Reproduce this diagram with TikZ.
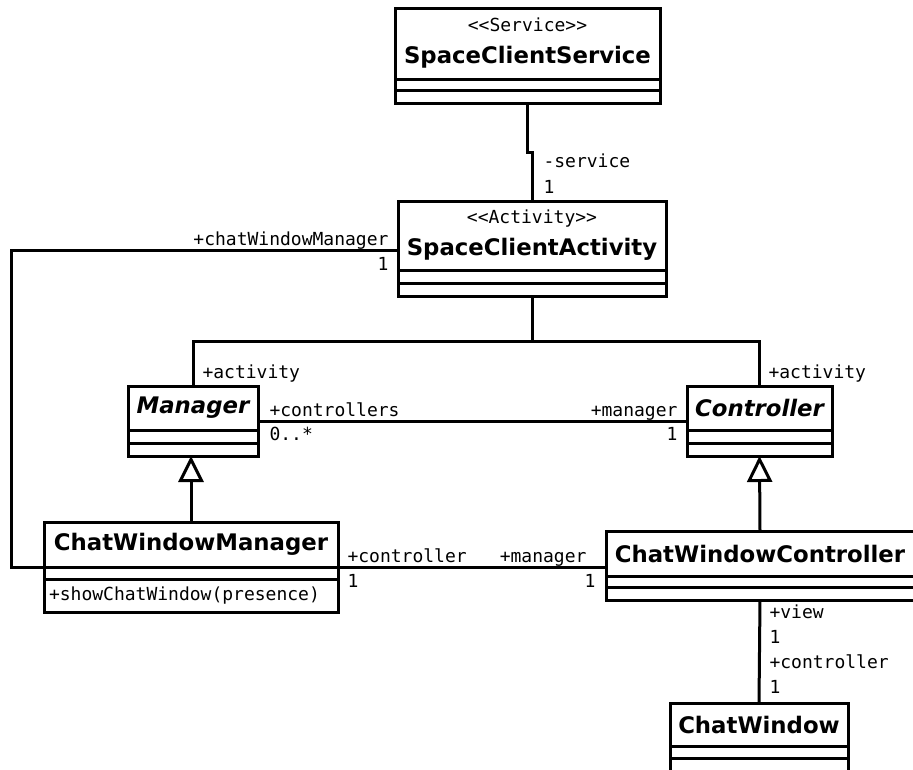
\documentclass[tikz,border=0pt]{standalone}
\usepackage{fontspec}
\newfontfamily\umlsans{DejaVu Sans}
\newfontfamily\umlmono{DejaVu Sans Mono}
\usetikzlibrary{arrows.meta, positioning}

\newcommand{\stereotype}[1]{{\umlmono\mdseries\fontsize{18}{20}\selectfont #1}}

\begin{document}
\begin{tikzpicture}[
      x=1pt, y=-1pt,
      line width=3pt,
      classname/.style={draw, line width=3pt, inner sep=0pt, outer sep=0pt, anchor=north west,
                        align=center, font=\umlsans\fontsize{22.8}{26}\selectfont\bfseries},
      compart/.style={draw, line width=3pt, inner sep=0pt, outer sep=0pt, below=0pt of #1},
      role/.style={font=\umlmono\fontsize{18}{20}\selectfont, inner sep=0pt},
      assoc/.style={line width=3pt},
      gen/.style={line width=3pt, -{Triangle[open, length=26pt, width=25pt]}}
    ]
      \useasboundingbox (0,0) rectangle (913,769);
      \clip (0,0) rectangle (913,769);

      % Classes
      \node[classname, minimum width=265pt, minimum height=71pt] (svc) at (395,8)
        {\stereotype{<<Service>>}\\[6pt]SpaceClientService};
      \node[compart=svc, minimum width=265pt, minimum height=11pt] (svc-a) {};
      \node[compart=svc-a, minimum width=265pt, minimum height=13pt] (svc-b) {};

      \node[classname, minimum width=268pt, minimum height=69pt] (act) at (398,201)
        {\stereotype{<<Activity>>}\\[6pt]SpaceClientActivity};
      \node[compart=act, minimum width=268pt, minimum height=13pt] (act-a) {};
      \node[compart=act-a, minimum width=268pt, minimum height=13pt] (act-b) {};

      \node[classname, minimum width=130pt, minimum height=44pt] (mgr) at (128,386)
        {\itshape Manager};
      \node[compart=mgr, minimum width=130pt, minimum height=13pt] (mgr-a) {};
      \node[compart=mgr-a, minimum width=130pt, minimum height=13pt] (mgr-b) {};

      \node[classname, minimum width=145pt, minimum height=44pt] (ctl) at (687,386)
        {\itshape Controller};
      \node[compart=ctl, minimum width=145pt, minimum height=13pt] (ctl-a) {};
      \node[compart=ctl-a, minimum width=145pt, minimum height=13pt] (ctl-b) {};

      \node[classname, minimum width=294pt, minimum height=45pt] (cwm) at (44,522)
        {ChatWindowManager};
      \node[compart=cwm, minimum width=294pt, minimum height=12pt] (cwm-a) {};
      \node[compart=cwm-a, minimum height=33pt, inner xsep=5pt, text width=284pt, align=left,
            font=\umlmono\fontsize{18}{20}\selectfont] (cwm-b) {+showChatWindow(presence)};

      \node[classname, minimum width=308pt, minimum height=45pt] (cwc) at (606,531)
        {ChatWindowController};
      \node[compart=cwc, minimum width=308pt, minimum height=11pt] (cwc-a) {};
      \node[compart=cwc-a, minimum width=308pt, minimum height=13pt] (cwc-b) {};

      \node[classname, minimum width=178pt, minimum height=43pt] (cw) at (670,703)
        {ChatWindow};
      \node[compart=cw, minimum width=178pt, minimum height=12pt] (cw-a) {};
      \node[compart=cw-a, minimum width=178pt, minimum height=16pt] (cw-b) {};

      % Associations
      \draw[assoc] (svc-b.south) -- ++(0,49) -| (act.north);
      \draw[assoc] ([yshift=-14.5pt]act.west) -- ++(-387,0) |- (cwm.south west);
      \draw[assoc] (act-b.south) -- ++(0,45) coordinate (fork) -| (mgr.north);
      \draw[assoc] (fork) -| (ctl.north);
      \draw[assoc] ([yshift=-13pt]mgr.east) -- ([yshift=-13pt]mgr.east -| ctl.west);
      \draw[assoc] (cwm.south east) -- (cwm.south east -| cwc.west);
      \draw[assoc] (cwc-b.south) -- (cw.north);

      % Generalizations
      \draw[gen] (cwm.north) -- (cwm.north |- mgr-b.south);
      \draw[gen] (cwc.north) -- (ctl-b.south);

      % Association ends
      \node[role, anchor=base west] (svc-role) at (542,167) {-service};
      \node[role, anchor=base west] (svc-mult) at (542,193) {1};
      \node[role, anchor=base east] (cwm-role) at (390,245) {+chatWindowManager};
      \node[role, anchor=base east] (cwm-mult) at (390,270) {1};
      \node[role, anchor=base west] (mgr-act) at (201,378) {+activity};
      \node[role, anchor=base west] (ctl-act) at (767,378) {+activity};
      \node[role, anchor=base west] (ctls-role) at (268,416) {+controllers};
      \node[role, anchor=base west] (ctls-mult) at (268,440) {0..*};
      \node[role, anchor=base east] (mgr-role) at (679,416) {+manager};
      \node[role, anchor=base east] (mgr-mult) at (679,440) {1};
      \node[role, anchor=base west] (ctl-role) at (346,562) {+controller};
      \node[role, anchor=base west] (ctl-mult) at (346,587) {1};
      \node[role, anchor=base east] (cwmgr-role) at (588,562) {+manager};
      \node[role, anchor=base east] (cwmgr-mult) at (597,587) {1};
      \node[role, anchor=base west] (view-role) at (768,618) {+view};
      \node[role, anchor=base west] (view-mult) at (768,643) {1};
      \node[role, anchor=base west] (cwc-role) at (768,668) {+controller};
      \node[role, anchor=base west] (cwc-mult) at (768,693) {1};
    \end{tikzpicture}
\end{document}
